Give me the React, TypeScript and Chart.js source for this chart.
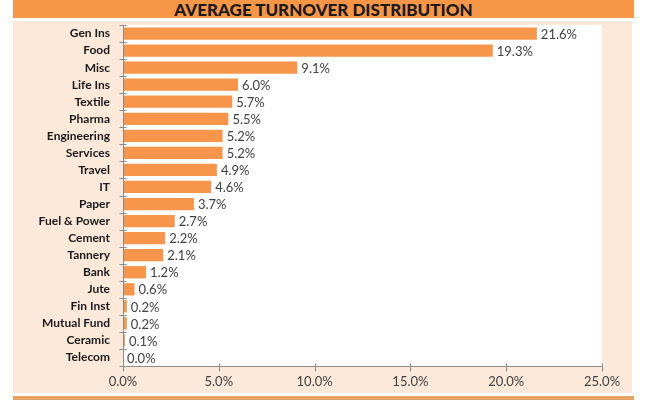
import React, { useEffect, useRef } from "react";
import { Chart, registerables } from "chart.js";

Chart.register(...registerables);

const categories = [
  "Gen Ins", "Food", "Misc", "Life Ins", "Textile", "Pharma", "Engineering",
  "Services", "Travel", "IT", "Paper", "Fuel & Power", "Cement", "Tannery",
  "Bank", "Jute", "Fin Inst", "Mutual Fund", "Ceramic", "Telecom",
];
const values = [
  21.6, 19.3, 9.1, 6.0, 5.7, 5.5, 5.2, 5.2, 4.9, 4.6, 3.7, 2.7, 2.2, 2.1, 1.2,
  0.6, 0.2, 0.2, 0.1, 0.0,
];
const xMin = 0;
const xMax = 25;
const xStep = 5;
const title = "AVERAGE TURNOVER DISTRIBUTION";

const fmt = (v: number) => v.toFixed(1) + "%";

export default function App() {
  const ref = useRef<HTMLCanvasElement | null>(null);

  useEffect(() => {
    if (!ref.current) return;

    const bgPlugin = {
      id: "bg",
      beforeDraw(chart: any) {
        const { ctx, chartArea } = chart;
        ctx.save();
        ctx.fillStyle = "#ffffff";
        ctx.fillRect(chartArea.left, chartArea.top, chartArea.right - chartArea.left, chartArea.bottom - chartArea.top);
        ctx.restore();
      },
    };

    const axesPlugin = {
      id: "axesDraw",
      afterDatasetsDraw(chart: any) {
        const { ctx, chartArea, scales } = chart;
        const xs = scales.x;
        ctx.save();
        ctx.strokeStyle = "#8c8c8c";
        ctx.lineWidth = 1;
        const ax = Math.round(xs.getPixelForValue(xMin)) + 0.5;
        const ay = Math.round(chartArea.bottom) + 0.5;
        ctx.beginPath();
        ctx.moveTo(ax, chartArea.top);
        ctx.lineTo(ax, ay);
        ctx.lineTo(xs.getPixelForValue(xMax) + 0.5, ay);
        const n = categories.length;
        for (let i = 0; i <= n; i++) {
          const y = Math.round(chartArea.top + ((chartArea.bottom - chartArea.top) * i) / n) + 0.5;
          ctx.moveTo(ax - 4, y);
          ctx.lineTo(ax + 3, y);
        }
        for (let v = xMin; v <= xMax; v += xStep) {
          const x = Math.round(xs.getPixelForValue(v)) + 0.5;
          ctx.moveTo(x, ay - 3);
          ctx.lineTo(x, ay + 5);
        }
        ctx.stroke();

        ctx.fillStyle = "#404040";
        ctx.font = "13px Lato";
        ctx.textBaseline = "middle";
        ctx.textAlign = "left";
        const meta = chart.getDatasetMeta(0);
        meta.data.forEach((el: any, i: number) => {
          ctx.fillText(fmt(values[i]), el.x + 4, el.y + 1);
        });
        ctx.restore();
      },
    };

    const chart = new Chart(ref.current, {
      type: "bar",
      data: {
        labels: categories,
        datasets: [
          {
            data: values,
            backgroundColor: "#F7964A",
            borderWidth: 0,
            categoryPercentage: 1,
            barPercentage: 0.72,
          },
        ],
      },
      options: {
        indexAxis: "y",
        animation: false,
        responsive: false,
        maintainAspectRatio: false,
        layout: { padding: { top: 4, right: 30, left: 0, bottom: 0 } },
        plugins: {
          legend: { display: false },
          tooltip: { enabled: false },
          title: { display: false },
        },
        scales: {
          x: {
            min: xMin,
            max: xMax,
            grid: { display: false, drawTicks: false },
            border: { display: false },
            ticks: {
              stepSize: xStep,
              callback: (v: any) => fmt(Number(v)),
              color: "#404040",
              font: { family: "Lato", size: 13 },
              padding: 8,
              maxRotation: 0,
            },
            afterFit: (s: any) => {
              s.height = 27;
              s.paddingLeft = 0;
              s.paddingRight = 0;
            },
          },
          y: {
            grid: { display: false, drawTicks: false },
            border: { display: false },
            ticks: {
              color: "#1a1a1a",
              font: { family: "Lato", size: 12, weight: "bold" },
              padding: 13,
              autoSkip: false,
            },
            afterFit: (s: any) => {
              s.width = 110;
              s.paddingTop = 0;
              s.paddingBottom = 0;
            },
          },
        },
      },
      plugins: [bgPlugin, axesPlugin],
    } as any);

    return () => chart.destroy();
  }, []);

  return (
    <div style={{ position: "fixed", left: 0, top: 0, width: 650, height: 400, background: "#ffffff", overflow: "hidden" }}>
      <div
        style={{
          position: "absolute",
          left: 13,
          top: 0,
          width: 621,
          height: 18,
          background: "#F79646",
          color: "#1a1a1a",
          fontFamily: "Lato",
          fontWeight: 900,
          fontSize: 17,
          lineHeight: "20px",
          textAlign: "center",
        }}
      >
        {title}
      </div>
      <div
        style={{
          position: "absolute",
          left: 13,
          top: 21,
          width: 619,
          height: 372,
          background: "#FDE9DA",
        }}
      >
        <canvas ref={ref} width={619} height={372} style={{ display: "block", width: 619, height: 372 }} />
      </div>
      <div
        style={{
          position: "absolute",
          left: 13,
          top: 396,
          width: 621,
          height: 4,
          background: "#E3A465",
        }}
      />
    </div>
  );
}
